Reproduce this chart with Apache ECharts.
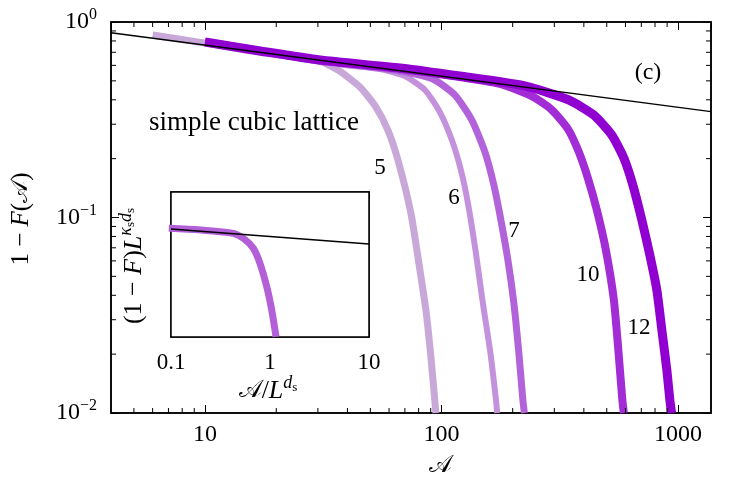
<!DOCTYPE html>
<html>
<head>
<meta charset="utf-8">
<script src="https://cdn.jsdelivr.net/npm/echarts@6.0.0/dist/echarts.min.js"></script>
<style>
  html, body { margin: 0; padding: 0; background: #fff; }
  #chart { width: 748px; height: 486px; }
</style>
</head>
<body>
<div id="chart"></div>
<script>
// lattice sizes L, one curve each
const sizes = [5, 6, 7, 10, 12];
const colors = ['#c8a8d8', '#c491dc', '#b263d9', '#a22cd6', '#9000d0'];
const widths = [7, 6, 7, 8, 9];

// 1 - F(A) against A
const a5 = [6.0, 10, 17, 29.7, 36.5, 45.2, 52.8, 59.3, 65.4, 74.2, 80.2, 85.9, 90.2, 94.7];
const f5 = [0.858, 0.78, 0.70, 0.639, 0.568, 0.465, 0.367, 0.28, 0.197, 0.1054, 0.0585, 0.0336, 0.0193, 0.0100];
const a6 = [10, 17.1, 30.6, 54.9, 70.0, 85.1, 98.4, 110.6, 120.8, 129.3, 139.8, 149.6, 161, 170, 172];
const f6 = [0.79, 0.711, 0.624, 0.575, 0.529, 0.449, 0.346, 0.249, 0.175, 0.1186, 0.0658, 0.0365, 0.0203, 0.01165, 0.0100];
const a7 = [10, 17.1, 30.6, 66.7, 91.9, 114.0, 134.4, 152.6, 166.5, 178.3, 190.9, 202.3, 212.4, 220.9, 224.1];
const f7 = [0.79, 0.711, 0.632, 0.562, 0.511, 0.423, 0.315, 0.2163, 0.1466, 0.0971, 0.0606, 0.0365, 0.0203, 0.01165, 0.0100];
const a10 = [10, 17.1, 30.6, 66.7, 119.6, 176.6, 241.1, 293, 342.3, 381, 415.9, 454, 495.7, 535.8, 559.7, 582, 590.5];
const f10 = [0.79, 0.711, 0.639, 0.575, 0.523, 0.482, 0.418, 0.355, 0.284, 0.2163, 0.1592, 0.1092, 0.0682, 0.0379, 0.0210, 0.01165, 0.0100];
const a12 = [10, 17.1, 30.6, 66.7, 119.6, 225.2, 345.7, 440.9, 525.4, 590.5, 644.6, 703.6, 760.6, 814.2, 855, 897.7, 924.3, 940];
const f12 = [0.79, 0.711, 0.639, 0.582, 0.529, 0.471, 0.399, 0.334, 0.264, 0.2015, 0.1466, 0.0971, 0.0643, 0.0426, 0.0266, 0.0166, 0.01165, 0.0100];

// power law guide line
const fitX = [4, 1380];
const fitY = [0.882, 0.348];

// inset: collapsed curve
const insetX = [0.095, 0.2, 0.426, 0.537, 0.678, 0.792, 0.927, 1.04, 1.15];
const insetY = [0.203, 0.187, 0.159, 0.1247, 0.0766, 0.0367, 0.0117, 0.00375, 0.00101];
const insetFitX = [0.1, 10];
const insetFitY = [0.1965, 0.0945];

// minor tick positions
const xMinor = [5, 6, 7, 8, 9, 20, 30, 40, 50, 60, 70, 80, 90, 200, 300, 400, 500, 600, 700, 800, 900];
const yMinor = [0.02, 0.03, 0.04, 0.05, 0.06, 0.07, 0.08, 0.09, 0.2, 0.3, 0.4, 0.5, 0.6, 0.7, 0.8, 0.9];

const curvesA = [a5, a6, a7, a10, a12];
const curvesF = [f5, f6, f7, f10, f12];

const serif = '"Liberation Serif", "DejaVu Serif", serif';
const pairs = (xs, ys) => xs.map((x, i) => [x, ys[i]]);

const chart = echarts.init(document.getElementById('chart'));

function richSet(base) {
  return {
    n: { fontFamily: serif, fontSize: base, color: '#000' },
    i: { fontFamily: serif, fontSize: base, fontStyle: 'italic', color: '#000' },
    c: { fontFamily: '"DejaVu Serif", serif', fontSize: base - 2, color: '#000' },
    sup: { fontFamily: serif, fontSize: Math.round(base * 0.68), fontStyle: 'italic', color: '#000', padding: [0, 0, Math.round(base * 0.6), 0] },
    ss: { fontFamily: serif, fontSize: Math.round(base * 0.5), color: '#000', padding: [0, 0, Math.round(base * 0.25), 0] }
  };
}

const tickStyle = { color: '#000', width: 1 };
const lineStyleBox = { color: '#000', width: 1.5 };

function mainAxis(pos, isX, labels) {
  const ax = {
    type: 'log',
    gridIndex: 0,
    position: pos,
    min: isX ? 4 : 0.01,
    max: isX ? 1380 : 1,
    axisLine: { show: true, lineStyle: lineStyleBox },
    axisTick: { show: true, inside: true, length: 8, lineStyle: tickStyle },
    splitLine: { show: false },
    axisLabel: { show: false }
  };
  if (labels && isX) {
    ax.axisLabel = {
      show: true, margin: 10, color: '#000', fontFamily: serif, fontSize: 24,
      showMinLabel: false, showMaxLabel: false,
      formatter: v => String(Math.round(v))
    };
  }
  if (labels && !isX) {
    ax.axisLabel = {
      show: true, margin: 14, color: '#000',
      formatter: v => {
        const e = Math.round(Math.log10(v));
        return '{b|10}{s|' + (e < 0 ? '\u2212' + (-e) : e) + '}';
      },
      rich: {
        b: { fontFamily: serif, fontSize: 24, color: '#000' },
        s: { fontFamily: serif, fontSize: 16, color: '#000', padding: [0, 0, 14, 0] }
      }
    };
  }
  return ax;
}

function insetAxis(pos, isX, labels) {
  const ax = {
    type: 'log',
    gridIndex: 1,
    position: pos,
    min: isX ? 0.1 : 0.001,
    max: isX ? 10 : 1.2,
    axisLine: { show: true, lineStyle: lineStyleBox },
    axisTick: { show: isX, inside: true, length: 7, lineStyle: tickStyle },
    splitLine: { show: false },
    axisLabel: { show: false }
  };
  if (labels) {
    ax.axisLabel = {
      show: true, margin: 14, color: '#000', fontFamily: serif, fontSize: 23,
      formatter: v => String(Number(v.toPrecision(3)))
    };
  }
  return ax;
}

// minor ticks on both sides, placed through the axis scales
function minorTicks(values, isX) {
  return {
    type: 'custom',
    xAxisIndex: 0,
    yAxisIndex: 0,
    silent: true,
    z: 5,
    data: values.map(v => isX ? [v, 0.01] : [4, v]),
    renderItem: (params, api) => {
      const len = 5;
      const st = { stroke: '#000', lineWidth: 1 };
      if (isX) {
        const b = api.coord([api.value(0), 0.01]);
        const t = api.coord([api.value(0), 1]);
        return { type: 'group', children: [
          { type: 'line', shape: { x1: b[0], y1: b[1], x2: b[0], y2: b[1] - len }, style: st },
          { type: 'line', shape: { x1: t[0], y1: t[1], x2: t[0], y2: t[1] + len }, style: st }
        ] };
      }
      const l = api.coord([4, api.value(1)]);
      const r = api.coord([1380, api.value(1)]);
      return { type: 'group', children: [
        { type: 'line', shape: { x1: l[0], y1: l[1], x2: l[0] + len, y2: l[1] }, style: st },
        { type: 'line', shape: { x1: r[0], y1: r[1], x2: r[0] - len, y2: r[1] }, style: st }
      ] };
    }
  };
}

const series = [];
sizes.forEach((L, k) => {
  series.push({
    name: 'L=' + L,
    type: 'line',
    xAxisIndex: 0,
    yAxisIndex: 0,
    data: pairs(curvesA[k], curvesF[k]),
    showSymbol: false,
    smooth: 0.2,
    clip: false,
    z: 2 + k * 0.1,
    lineStyle: { color: colors[k], width: widths[k], join: 'round' }
  });
});
series.push({
  type: 'line', xAxisIndex: 0, yAxisIndex: 0,
  data: pairs(fitX, fitY), showSymbol: false, z: 4,
  lineStyle: { color: '#000', width: 1.5 }
});
series.push(minorTicks(xMinor, true));
series.push(minorTicks(yMinor, false));
series.push({
  type: 'line', xAxisIndex: 2, yAxisIndex: 2,
  data: pairs(insetX, insetY), showSymbol: false, smooth: 0.3, clip: false, z: 6,
  lineStyle: { color: '#b35fd8', width: 7 }
});
series.push({
  type: 'line', xAxisIndex: 2, yAxisIndex: 2,
  data: pairs(insetFitX, insetFitY), showSymbol: false, z: 7,
  lineStyle: { color: '#000', width: 1.5 }
});

function label(text, x, y, size) {
  return { type: 'text', x: x, y: y, z: 10,
    style: { text: text, fill: '#000', font: size + 'px ' + serif, align: 'center', verticalAlign: 'middle' } };
}

function mathLabel(text, x, y, size, rot) {
  return { type: 'text', x: x, y: y, z: 10, rotation: rot || 0,
    style: { text: text, rich: richSet(size), align: 'center', verticalAlign: 'middle' } };
}

chart.setOption({
  animation: false,
  backgroundColor: '#fff',
  grid: [
    { left: 111, top: 22, width: 600, height: 391, show: true, borderColor: '#000', borderWidth: 1.5, backgroundColor: 'transparent' },
    { left: 171, top: 192, width: 198, height: 145, show: true, borderColor: '#000', borderWidth: 1.5, backgroundColor: '#fff', z: 5 }
  ],
  xAxis: [
    mainAxis('bottom', true, true),
    mainAxis('top', true, false),
    insetAxis('bottom', true, true),
    insetAxis('top', true, false)
  ],
  yAxis: [
    mainAxis('left', false, true),
    mainAxis('right', false, false),
    insetAxis('left', false, false),
    insetAxis('right', false, false)
  ],
  series: series,
  graphic: [
    label('simple cubic lattice', 254, 123, 27),
    label('(c)', 648, 73, 24),
    label('5', 380, 168, 23),
    label('6', 454, 198, 23),
    label('7', 514, 231, 23),
    label('10', 588, 275, 23),
    label('12', 639, 328, 23),
    mathLabel('{c|\u{1D49C}}', 440, 466, 26),
    mathLabel('{n|1 \u2212 }{i|F}{n|(}{c|\u{1D49C}}{n|)}', 21, 219, 25, Math.PI / 2),
    mathLabel('{c|\u{1D49C}}{n|/}{i|L}{sup|d}{ss|s}', 268, 391, 26),
    mathLabel('{n|(1 \u2212 }{i|F}{n|)}{i|L}{sup|\u03BA}{ss|s}{sup|d}{ss|s}', 134, 266, 26, Math.PI / 2)
  ]
});
</script>
</body>
</html>
